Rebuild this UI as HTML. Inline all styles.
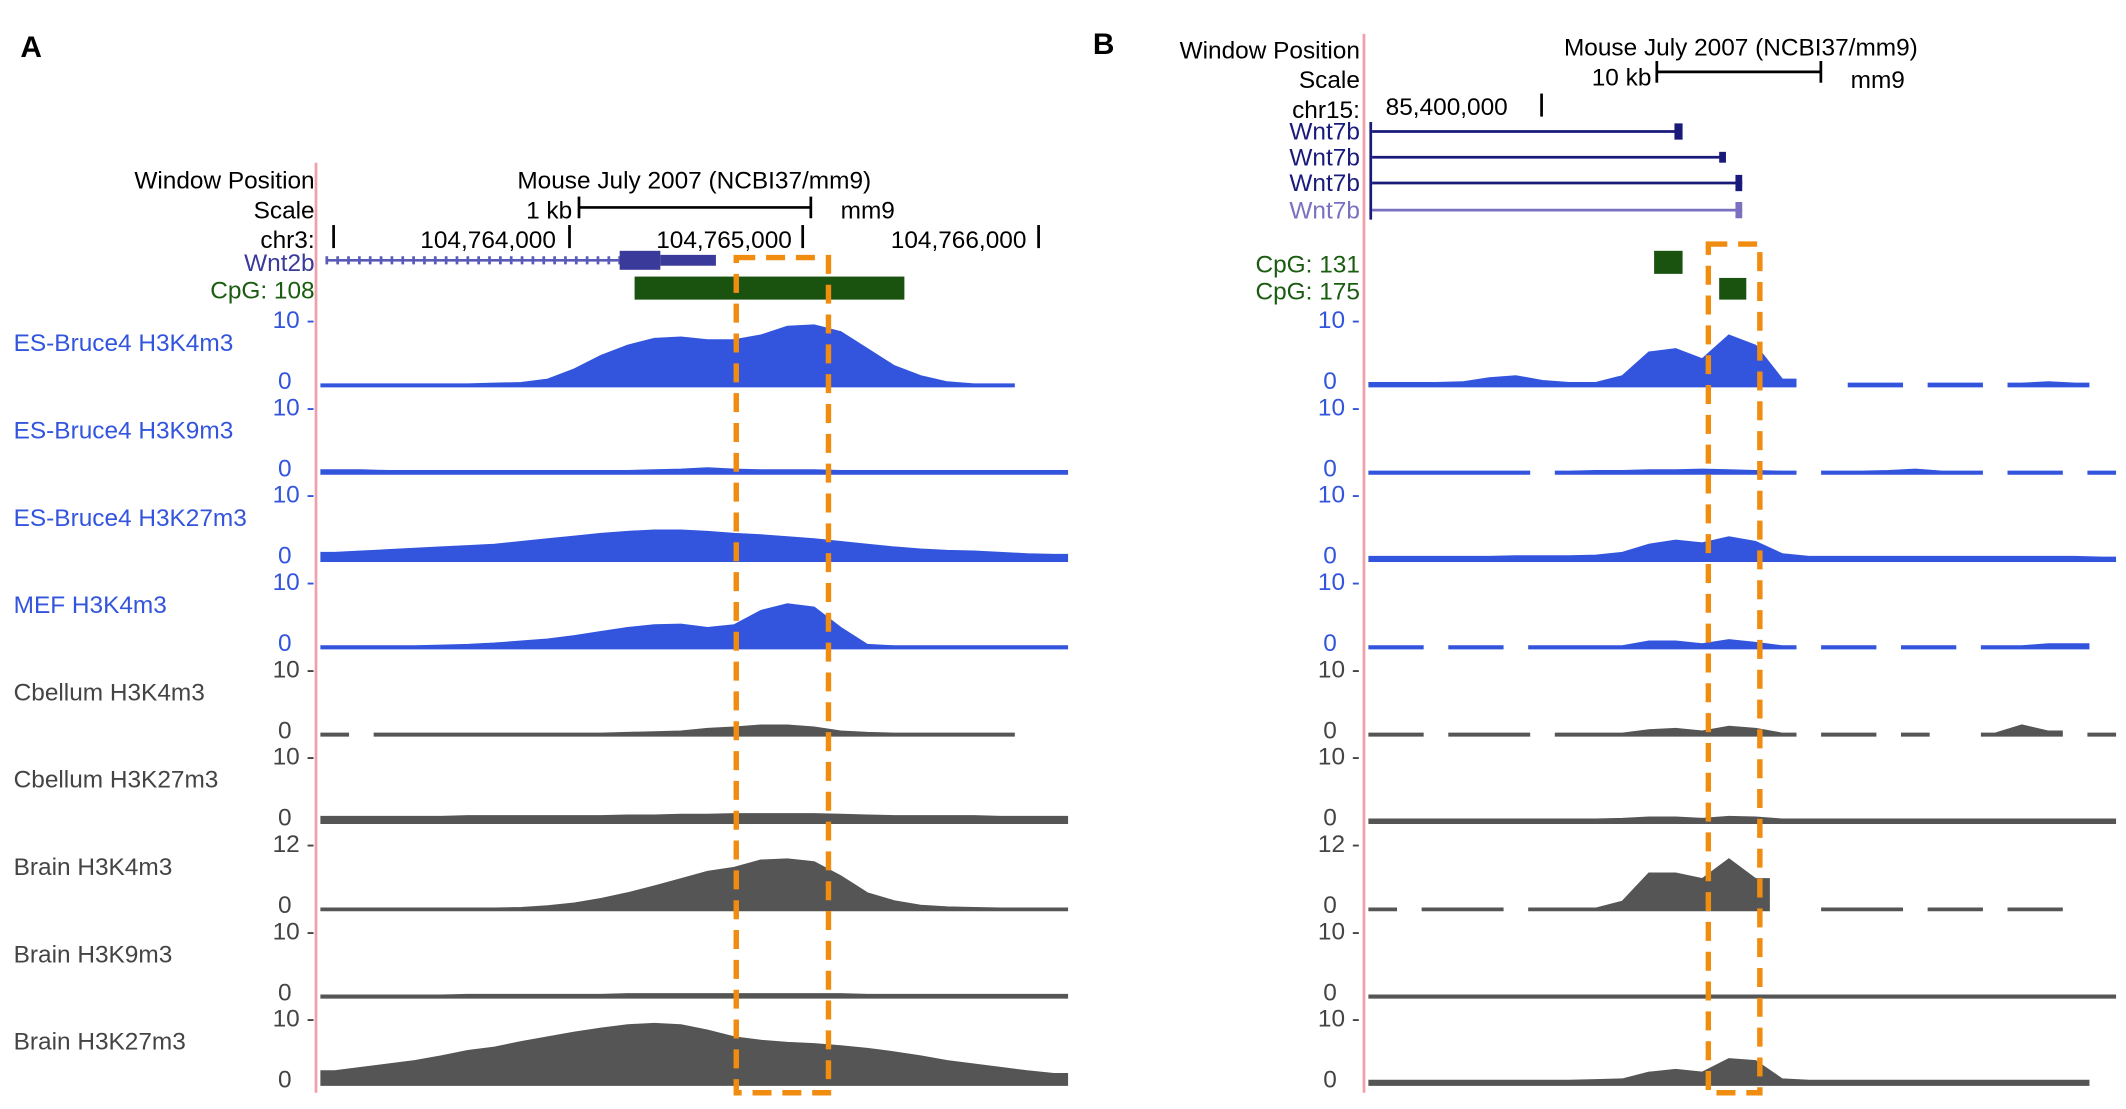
<!DOCTYPE html>
<html><head><meta charset="utf-8"><style>
html,body{margin:0;padding:0;background:#fff;}
svg{display:block;}
text{font-family:"Liberation Sans Narrow","Liberation Sans",sans-serif;}
</style></head><body>
<svg id="fig" width="2126" height="1109" viewBox="0 0 1568 818" xmlns="http://www.w3.org/2000/svg">
<rect width="1568" height="818" fill="#fff"/>
<g id="static">
<text x="15" y="42" font-family="Liberation Serif,serif" font-weight="bold" font-size="22">A</text>
<text x="806" y="40" font-family="Liberation Serif,serif" font-weight="bold" font-size="22">B</text>
<line x1="233" y1="120" x2="233" y2="806" stroke="#f0a0a8" stroke-width="2"/>
<line x1="1006" y1="25" x2="1006" y2="806" stroke="#f0a0a8" stroke-width="2"/>
<g font-size="18" fill="#000">
<text x="232" y="139" text-anchor="end">Window Position</text>
<text x="232" y="161" text-anchor="end">Scale</text>
<text x="232" y="183" text-anchor="end">chr3:</text>
<text x="512" y="139" text-anchor="middle">Mouse July 2007 (NCBI37/mm9)</text>
<text x="422" y="161" text-anchor="end">1 kb</text>
<text x="620" y="161">mm9</text>
<text x="410" y="183" text-anchor="end">104,764,000</text>
<text x="584" y="183" text-anchor="end">104,765,000</text>
<text x="757" y="183" text-anchor="end">104,766,000</text>
</g>
<g stroke="#000" stroke-width="2">
<line x1="427" y1="153" x2="598" y2="153"/><line x1="427" y1="145" x2="427" y2="161"/><line x1="598" y1="145" x2="598" y2="161"/>
<line x1="246" y1="166" x2="246" y2="183"/><line x1="420" y1="166" x2="420" y2="183"/><line x1="592" y1="166" x2="592" y2="183"/><line x1="766" y1="166" x2="766" y2="183"/>
</g>
<text x="232" y="200" text-anchor="end" font-size="18" fill="#3a3a9a">Wnt2b</text>
<g>
<line x1="240" y1="192" x2="460" y2="192" stroke="#5a5ab8" stroke-width="2"/>
<line x1="240" y1="192" x2="460" y2="192" stroke="#5a5ab8" stroke-width="6" stroke-dasharray="2,6"/>
<rect x="457" y="185" width="30" height="14" fill="#3a3a9a"/>
<rect x="487" y="188" width="41" height="8" fill="#3a3a9a"/>
</g>
<text x="232" y="220" text-anchor="end" font-size="18" fill="#1a5c10">CpG: 108</text>
<rect x="468" y="204" width="199" height="17" fill="#1a5210"/>
<g font-size="18" fill="#000">
<text x="1003" y="43" text-anchor="end">Window Position</text>
<text x="1003" y="65" text-anchor="end">Scale</text>
<text x="1003" y="87" text-anchor="end">chr15:</text>
<text x="1284" y="41" text-anchor="middle">Mouse July 2007 (NCBI37/mm9)</text>
<text x="1218" y="63" text-anchor="end">10 kb</text>
<text x="1365" y="65">mm9</text>
<text x="1022" y="85">85,400,000</text>
</g>
<g stroke="#000" stroke-width="2">
<line x1="1222" y1="53" x2="1343" y2="53"/><line x1="1222" y1="45" x2="1222" y2="61"/><line x1="1343" y1="45" x2="1343" y2="61"/>
<line x1="1137" y1="69" x2="1137" y2="86"/>
</g>
<g font-size="18">
<text x="1003" y="103" text-anchor="end" fill="#1a1a7a">Wnt7b</text>
<text x="1003" y="122" text-anchor="end" fill="#1a1a7a">Wnt7b</text>
<text x="1003" y="141" text-anchor="end" fill="#1a1a7a">Wnt7b</text>
<text x="1003" y="161" text-anchor="end" fill="#7a70c0">Wnt7b</text>
</g>
<g>
<line x1="1012" y1="97" x2="1240" y2="97" stroke="#1a1a7a" stroke-width="2"/><rect x="1235" y="91" width="6" height="12" fill="#1a1a7a"/>
<line x1="1012" y1="116" x2="1272" y2="116" stroke="#1a1a7a" stroke-width="2"/><rect x="1268" y="112" width="5" height="8" fill="#1a1a7a"/>
<line x1="1012" y1="135" x2="1285" y2="135" stroke="#1a1a7a" stroke-width="2"/><rect x="1280" y="129" width="5" height="12" fill="#1a1a7a"/>
<line x1="1012" y1="155" x2="1285" y2="155" stroke="#7a70c0" stroke-width="2"/><rect x="1280" y="149" width="5" height="12" fill="#7a70c0"/>
<line x1="1011" y1="90" x2="1011" y2="162" stroke="#1a1a7a" stroke-width="2"/>
</g>
<g font-size="18" fill="#1a5c10">
<text x="1003" y="201" text-anchor="end">CpG: 131</text>
<text x="1003" y="221" text-anchor="end">CpG: 175</text>
</g>
<rect x="1220" y="185" width="21" height="17" fill="#1a5210"/>
<rect x="1268" y="205" width="20" height="16" fill="#1a5210"/>
</g>
<g id="tracks"></g>
<g fill="none" stroke="#f08c10" stroke-width="4" stroke-dasharray="14,8">
<rect x="543" y="190" width="68" height="616"/>
<rect x="1260" y="180" width="38" height="626"/>
</g>
</svg>
<script>
const trackNames = ["ES-Bruce4 H3K4m3","ES-Bruce4 H3K9m3","ES-Bruce4 H3K27m3","MEF H3K4m3","Cbellum H3K4m3","Cbellum H3K27m3","Brain H3K4m3","Brain H3K9m3","Brain H3K27m3"];
const trackMax = [10,10,10,10,10,10,12,10,10];
const trackColor = ["#3355dd","#3355dd","#3355dd","#3355dd","#555","#555","#555","#555","#555"];
const labelColor = ["#3355dd","#3355dd","#3355dd","#3355dd","#444","#444","#444","#444","#444"];
const a1 = [.3,.3,.3,.3,.3,.3,.4,.5,1,2.5,4.5,6,7,7.2,6.8,6.8,7.5,8.8,9,8,5.5,3,1.5,.6,.3,.3,null,null];
const a2 = [.5,.5,.4,.4,.4,.4,.4,.4,.4,.4,.4,.4,.5,.6,.8,.6,.5,.5,.5,.4,.4,.4,.4,.4,.4,.4,.4,.4];
const a3 = [1.2,1.4,1.6,1.8,2,2.2,2.4,2.8,3.2,3.6,4,4.3,4.5,4.5,4.3,4,3.8,3.5,3.2,2.8,2.4,2,1.7,1.5,1.4,1.2,1,.9];
const a4 = [.3,.3,.3,.3,.4,.5,.7,1,1.3,1.8,2.4,3,3.4,3.5,3,3.4,5.5,6.5,6,3,.5,.3,.3,.3,.3,.3,.3,.3];
const a5 = [.3,null,.3,.3,.3,.3,.3,.3,.3,.3,.3,.4,.5,.6,1,1.2,1.5,1.5,1.2,.6,.4,.3,.3,.3,.3,.3,null,null];
const a6 = [.9,.9,.9,.9,.9,1,1,1,1,1,1,1.1,1.1,1.2,1.2,1.3,1.3,1.3,1.3,1.2,1.1,1,1,1,1,.9,.9,.9];
const a7 = [.3,.3,.3,.3,.3,.3,.3,.4,.7,1.2,2,3,4.2,5.5,6.8,7.5,8.8,9,8.5,6,3,1.6,.8,.5,.4,.3,.3,.3];
const a8 = [.3,.3,.3,.3,.3,.4,.4,.4,.4,.4,.4,.5,.5,.5,.5,.5,.5,.5,.5,.5,.4,.4,.4,.4,.4,.4,.4,.4];
const a9 = [2,2.5,3,3.5,4.2,5,5.5,6.3,7,7.7,8.3,8.8,9,8.8,8,7,6.5,6.2,6,5.7,5.3,4.8,4.2,3.5,3,2.5,2,1.6];
const b1 = [.5,.5,.5,.6,1.2,1.5,.8,.5,.5,1.5,5,5.5,4,7.5,6,1,null,null,.4,.4,null,.4,.4,null,.4,.6,.4,null];
const b2 = [.3,.3,.3,.3,.3,.3,null,.3,.4,.4,.5,.5,.6,.5,.4,.3,null,.3,.3,.4,.6,.3,.3,null,.3,.3,null,.3];
const b3 = [.6,.6,.6,.6,.6,.7,.7,.7,.8,1.2,2.4,3,2.6,3.5,2.8,1,.6,.6,.6,.6,.6,.6,.6,.6,.6,.6,.6,.5];
const b4 = [.3,.3,null,.3,.3,null,.3,.3,.3,.3,1,1,.6,1.2,.8,.3,null,.3,.3,null,.3,.3,null,.3,.3,.6,.6,null];
const b5 = [.3,.3,null,.3,.3,.3,null,.3,.3,.3,.8,1,.6,1.3,1,.3,null,.3,.3,null,.3,null,null,.3,1.5,.6,null,.3];
const b6 = [.5,.5,.5,.5,.5,.5,.5,.5,.5,.6,.8,.8,.6,.9,.8,.5,.5,.5,.5,.5,.5,.5,.5,.5,.5,.5,.5,.5];
const b7 = [.3,null,.3,.3,.3,null,.3,.3,.3,1.5,6.5,6.5,5.5,9,5.5,null,null,.3,.3,.3,null,.3,.3,null,.3,.3,null,null];
const b8 = [.3,.3,.3,.3,.3,.3,.3,.3,.3,.3,.3,.3,.3,.3,.3,.3,.3,.3,.3,.3,.3,.3,.3,.3,.3,.3,.3,.3];
const b9 = [.6,.6,.6,.6,.6,.6,.6,.6,.7,.8,1.8,2.2,1.8,3.8,3.5,.8,.6,.6,.6,.6,.6,.6,.6,.6,.6,.6,.6,null];

const aSeries=[a1,a2,a3,a4,a5,a6,a7,a8,a9];
const bSeries=[b1,b2,b3,b4,b5,b6,b7,b8,b9];
const NS="http://www.w3.org/2000/svg";
const tracks=document.getElementById('tracks');
const baseY0=285, trackStep=64.4, trackH=50;
function baseY(i){return baseY0+i*trackStep;}
function yScale(v,i){return baseY(i)-v/trackMax[i]*trackH;}
function xA(k){return 237+k*(550/28);}
function xB(k){return 1010+k*(550/28);}
function el(tag,attrs){const e=document.createElementNS(NS,tag);for(const k in attrs)e.setAttribute(k,attrs[k]);return e;}
function drawSeries(vals,i,xf,panel){
  const g=el('g',{});
  
  
  const by=baseY(i);
  let seg=[];
  const flush=()=>{
    if(!seg.length)return;
    const s=seg[0], e=seg[seg.length-1];
    let d='M'+xf(s)+','+by+' L'+xf(s)+','+yScale(Math.max(vals[s],0.25),i);
    seg.forEach(k=>{d+=' L'+xf(k+0.5)+','+yScale(Math.max(vals[k],0.25),i);});
    d+=' L'+xf(e+1)+','+yScale(Math.max(vals[e],0.25),i)+' L'+xf(e+1)+','+by+' Z';
    const p=el('path',{d:d,fill:trackColor[i],stroke:trackColor[i],'stroke-width':'1.5'});
    
    
    g.appendChild(p);seg=[];
  };
  vals.forEach((v,k)=>{if(v===null)flush();else seg.push(k);});
  flush();
  tracks.appendChild(g);
}
function txt(x,y,s,fill,anchor){
  const t=el('text',{x:x,y:y,'font-size':18,fill:fill,'text-anchor':anchor});t.textContent=s;return t;
}
for(let i=0;i<9;i++){
  const by=baseY(i);
  const lab=txt(10,by-26,trackNames[i],labelColor[i],'start');
  
  
  tracks.appendChild(lab);
  [232,1003].forEach(xr=>{
    const t1=txt(xr,by-43,trackMax[i]+' -',labelColor[i],'end');
    
    
    tracks.appendChild(t1);
    const t0=txt(xr-17,by+2,'0',labelColor[i],'end');
    
    
    tracks.appendChild(t0);
  });
  drawSeries(aSeries[i],i,xA,'a');
  drawSeries(bSeries[i],i,xB,'b');
}
</script>
</body></html>
